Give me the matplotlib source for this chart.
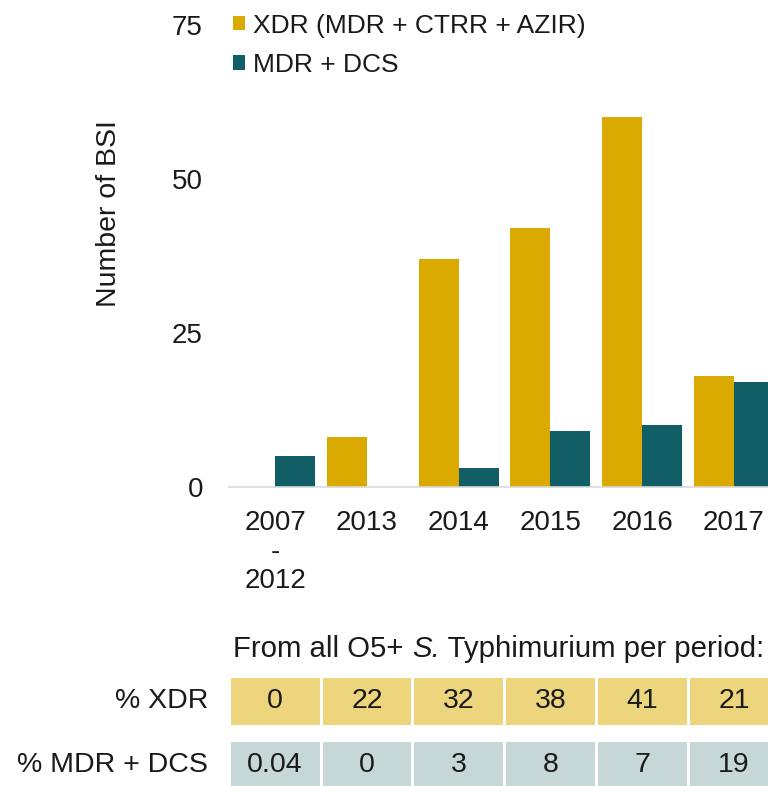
"""
Número de BSI por periodo (XDR vs MDR + DCS) con tabla de porcentajes debajo
"""

import numpy as np
import matplotlib
matplotlib.use("Agg")
import matplotlib.pyplot as plt

plt.rcParams['font.family'] = ['Liberation Sans', 'DejaVu Sans']

# Datos
periodos = ['2007\n-\n2012', '2013', '2014', '2015', '2016', '2017']
xdr_counts = [0, 8, 37, 42, 60, 18]
mdr_dcs_counts = [5, 0, 3, 9, 10, 17]
pct_xdr = ['0', '22', '32', '38', '41', '21']
pct_mdr_dcs = ['0.04', '0', '3', '8', '7', '19']
etiquetas_filas = ['% XDR', '% MDR + DCS']
series = ['XDR (MDR + CTRR + AZIR)', 'MDR + DCS']

amarillo = '#DAAA00'
verde = '#115E66'
amarillo_claro = '#EDD57E'
verde_claro = '#C5D7D7'
texto = '#1A1A1A'

W, H = 768, 786
fig = plt.figure(figsize=(W / 100, H / 100), dpi=100)

x = np.arange(len(periodos))
ancho = 0.436

# Ejes principales (se salen un poco por la derecha, como en el original)
ax = fig.add_axes([229.3 / W, 1 - 486.7 / H, 6 * 91.75 / W, 462 / H])
b1 = ax.bar(x - ancho / 2, xdr_counts, ancho, color=amarillo, label=series[0])
b2 = ax.bar(x + ancho / 2, mdr_dcs_counts, ancho, color=verde, label=series[1])
ax.set_xlim(-0.5, 5.5)
ax.set_ylim(0, 75)
ax.set_yticks([0, 25, 50, 75])
ax.set_xticks(x)
ax.set_xticklabels(periodos, linespacing=1.13)
ax.tick_params(axis='both', length=0, labelsize=20, colors=texto)
ax.tick_params(axis='x', pad=17)
ax.tick_params(axis='y', pad=19)
for lado in ['top', 'right', 'left']:
    ax.spines[lado].set_visible(False)
ax.spines['bottom'].set_color('#D9D9D9')
ax.spines['bottom'].set_linewidth(1.2)

fig.text(109 / W, 1 - 214 / H, 'Number of BSI', rotation=90, ha='center',
         va='center', fontsize=20.5, color=texto)

fig.legend(handles=[b1, b2], labels=series, loc='upper left',
           bbox_to_anchor=(233 / W, 1 - 13.5 / H), frameon=False, fontsize=19,
           handlelength=0.47, handleheight=0.47, handletextpad=0.27,
           labelspacing=0.58, borderaxespad=0, borderpad=0, labelcolor=texto)

# Tabla de porcentajes, alineada con las categorías
tx = fig.add_axes([229.3 / W, 1 - 789 / H, 6 * 91.75 / W, 111.3 / H])
tx.set_xlim(-0.5, 5.5)
tx.set_ylim(0, 2.353)
tx.axis('off')
filas = [(pct_xdr, amarillo_claro, 1.353), (pct_mdr_dcs, verde_claro, 0.0)]
for (valores, color, base), etiqueta in zip(filas, etiquetas_filas):
    tx.bar(x, 1.0, width=0.967, bottom=base, color=color, clip_on=False)
    for xi, v in zip(x, valores):
        tx.text(xi, base + 0.5, v, ha='center', va='center', fontsize=20.5,
                color=texto, clip_on=False)
    tx.text(-0.732, base + 0.5, etiqueta, ha='right', va='center',
            fontsize=20.5, color=texto, clip_on=False)

# Título de la tabla en tres trozos para poner "S." en cursiva
trozos = [('From all O5+ ', 'normal'), ('S.', 'italic'), (' Typhimurium per period:', 'normal')]
fig.canvas.draw()
renderer = fig.canvas.get_renderer()
x_px = 233.3
for cadena, estilo in trozos:
    t = fig.text(x_px / W, 1 - 649 / H, cadena, ha='left', va='center',
                 fontsize=21.2, style=estilo, color=texto)
    x_px += t.get_window_extent(renderer).width

plt.savefig('out.png', dpi=100)
